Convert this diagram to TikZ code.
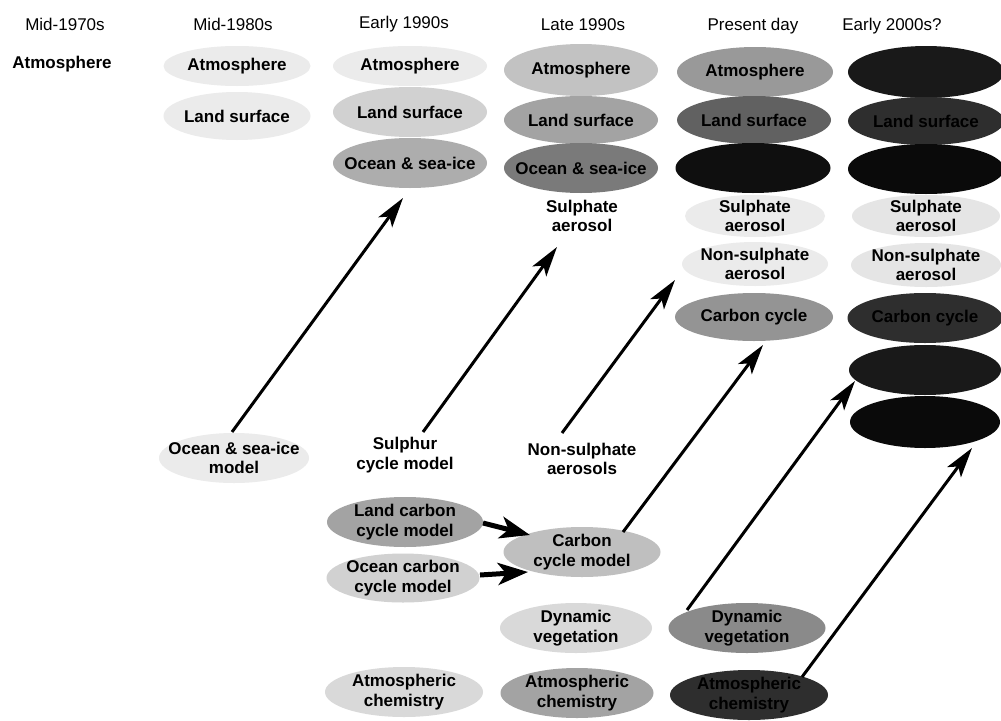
\documentclass[tikz,border=0pt]{standalone}
\usepackage{fontspec}
\setmainfont{Liberation Sans}
\usetikzlibrary{shapes.geometric,arrows.meta}
\begin{document}
\begin{tikzpicture}[x=1pt,y=-1pt,
  lab/.style={font=\fontsize{17}{19.5}\selectfont\bfseries, align=center, inner sep=0pt},
  hdr/.style={font=\fontsize{17}{19.5}\selectfont, inner sep=0pt},
  oval/.style={lab, ellipse, inner xsep=-30pt, inner ysep=-10pt, minimum width=154pt, minimum height=50pt},
  arr/.style={line width=3pt, -{Stealth[length=30pt,width=17pt,inset=7pt]}},
  fat/.style={line width=5pt, -{Stealth[length=30pt,width=22pt,inset=8pt]}}
]
\useasboundingbox (0,0) rectangle (1001,720);
\fill[white] (0,0) rectangle (1001,720);

% headers
\node[hdr] (h1) at (65,24) {Mid-1970s};
\node[hdr] (h2) at (233,24) {Mid-1980s};
\node[hdr] (h3) at (404,24) {Early 1990s};
\node[hdr] (h4) at (583,25) {Late 1990s};
\node[hdr] (h5) at (753,26) {Present day};
\node[hdr] (h6) at (892,26) {Early 2000s?};

% Mid-1970s
\node[lab] (a1) at (62,64) {Atmosphere};

% Mid-1980s
\node[oval, fill=black!8, minimum width=147pt, minimum height=40pt] (a2) at (237,66) {Atmosphere};
\node[oval, fill=black!8, minimum width=147pt, minimum height=48pt] (l2) at (237,116) {Land surface};

% Early 1990s
\node[oval, fill=black!8, minimum height=40pt] (a3) at (410,66) {Atmosphere};
\node[oval, fill=black!18] (l3) at (410,112) {Land surface};
\node[oval, fill=black!32] (o3) at (410,163) {Ocean \& sea-ice};

% Late 1990s
\node[oval, fill=black!24, minimum height=52pt] (a4) at (581,70) {Atmosphere};
\node[oval, fill=black!36, minimum height=48pt] (l4) at (581,120) {Land surface};
\node[oval, fill=black!52] (o4) at (581,168) {Ocean \& sea-ice};
\node[lab] (sp4) at (582,216) {Sulphate\\aerosol};

% Present day
\node[oval, fill=black!40, minimum width=156pt] (a5) at (755,72) {Atmosphere};
\node[oval, fill=black!62, minimum height=48pt] (l5) at (754,120) {Land surface};
\node[oval, fill=black!94, minimum width=155pt] (o5) at (753,168) {};
\node[oval, fill=black!8, minimum width=140pt, minimum height=42pt] (sp5) at (755,216) {Sulphate\\aerosol};
\node[oval, fill=black!8, minimum width=146pt, minimum height=44pt] (nsp5) at (755,264) {Non-sulphate\\aerosol};
\node[oval, fill=black!42, minimum width=158pt, minimum height=48pt] (cc5) at (754,317) {Carbon cycle};

% Early 2000s
\node[oval, fill=black!90, minimum width=156pt, minimum height=52pt] (a6) at (926,72) {};
\node[oval, fill=black!82, minimum width=156pt, minimum height=48pt] (l6) at (926,121) {Land surface};
\node[oval, fill=black!96, minimum width=156pt] (o6) at (926,169) {};
\node[oval, fill=black!10, minimum width=148pt, minimum height=42pt] (sp6) at (926,216) {Sulphate\\aerosol};
\node[oval, fill=black!10, minimum width=150pt, minimum height=44pt] (nsp6) at (926,265) {Non-sulphate\\aerosol};
\node[oval, fill=black!82, minimum width=155pt] (cc6) at (925,318) {Carbon cycle};
\node[oval, fill=black!90, minimum width=152pt] (dv6) at (925,370) {};
\node[oval, fill=black!96, minimum width=150pt, minimum height=52pt] (ac6) at (925,422) {};

% component models
\node[oval, fill=black!8, minimum width=150pt] (om) at (234,458) {Ocean \& sea-ice\\model};
\node[lab] (scm) at (405,455) {Sulphur\\cycle model};
\node[lab] (nsa) at (582,459) {Non-sulphate\\aerosols};
\node[oval, fill=black!36, minimum width=156pt] (lcm) at (405,522) {Land carbon\\cycle model};
\node[oval, fill=black!18, minimum width=153pt, minimum height=49pt] (ocm) at (403,578) {Ocean carbon\\cycle model};
\node[oval, fill=black!25, minimum width=157pt] (ccm) at (582,552) {Carbon\\cycle model};
\node[oval, fill=black!15, minimum width=152pt] (dv4) at (576,628) {Dynamic\\vegetation};
\node[oval, fill=black!46, minimum width=157pt] (dv5) at (747,628) {Dynamic\\vegetation};
\node[oval, fill=black!15, minimum width=158pt] (ac3) at (404,692) {Atmospheric\\chemistry};
\node[oval, fill=black!36, minimum width=153pt] (ac4) at (577,693) {Atmospheric\\chemistry};
\node[oval, fill=black!82, minimum width=158pt] (ac5) at (749,695) {Atmospheric\\chemistry};

% arrows
\draw[arr] ([shift={(-2,-26)}]om.center) -- ([shift={(-7,35)}]o3.center);
\draw[arr] ([shift={(18,-23)}]scm.center) -- ([shift={(-25,31)}]sp4.center);
\draw[arr] ([shift={(-20,-26)}]nsa.center) -- ([shift={(-80,16)}]nsp5.center);
\draw[arr] ([shift={(41,-20)}]ccm.center) -- ([shift={(9,28)}]cc5.center);
\draw[arr] ([shift={(-60,-18)}]dv5.center) -- ([shift={(-70,11)}]dv6.center);
\draw[arr] ([shift={(53,-18)}]ac5.center) -- ([shift={(47,26)}]ac6.center);
\draw[fat] ([shift={(78,1)}]lcm.center) -- ([shift={(-52,-17)}]ccm.center);
\draw[fat] ([shift={(77,-3)}]ocm.center) -- ([shift={(-54,20)}]ccm.center);
\end{tikzpicture}
\end{document}
